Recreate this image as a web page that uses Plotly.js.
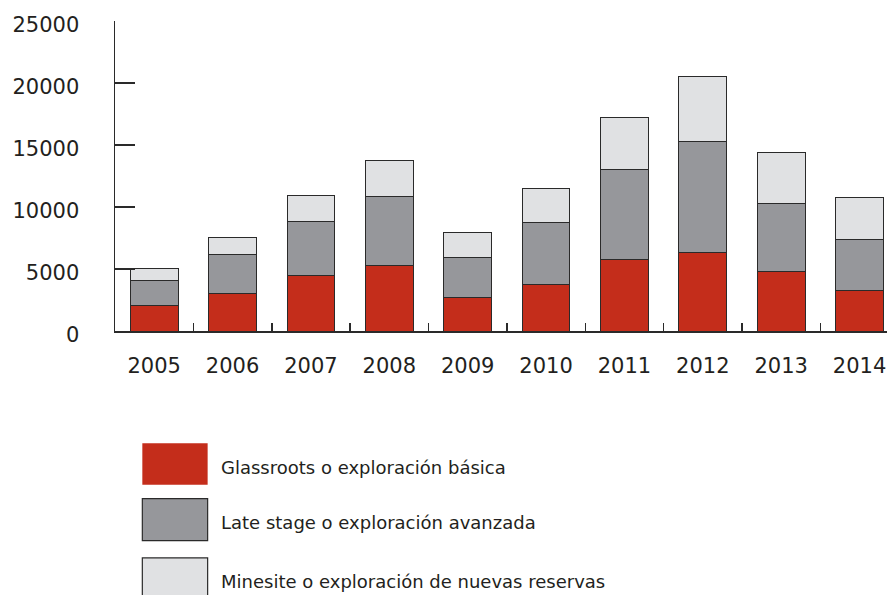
<!DOCTYPE html>
<html>
<head>
<meta charset="utf-8">
<script src="https://cdn.plot.ly/plotly-3.0.1.min.js"></script>
<style>html,body{margin:0;padding:0;background:#fff;}#chart{width:887px;height:595px;}</style>
</head>
<body>
<div id="chart"></div>
<script>
const years = ["2005","2006","2007","2008","2009","2010","2011","2012","2013","2014"];
const grassroots = [2070, 3000, 4480, 5260, 2710, 3785, 5795, 6305, 4775, 3245];
const lateStage = [1980, 3170, 4350, 5555, 3220, 4965, 7190, 8965, 5505, 4135];
const minesite = [995, 1345, 2065, 2925, 2040, 2735, 4245, 5230, 4130, 3350];
const seriesNames = ["Glassroots o exploración básica", "Late stage o exploración avanzada", "Minesite o exploración de nuevas reservas"];
const colors = ["#c42d1b", "#96979b", "#e0e1e3"];
const yTicks = [0, 5000, 10000, 15000, 20000, 25000];

const values = [grassroots, lateStage, minesite];
const traces = values.map((v, i) => ({
  type: "bar",
  x: years,
  y: v,
  name: seriesNames[i],
  marker: {color: colors[i], line: {color: "#2a2a2a", width: 1}},
  hoverinfo: "x+y+name"
}));

const fontFam = "DejaVu Sans, sans-serif";
const txt = "#231f20";

const legendRows = [[-0.362, -0.496], [-0.541, -0.676], [-0.732, -0.867]];
const shapes = legendRows.map((r, i) => ({
  type: "rect", xref: "paper", yref: "paper",
  x0: 0.0354, x1: 0.120, y0: r[1], y1: r[0],
  fillcolor: colors[i],
  line: {color: i === 0 ? colors[0] : "#2a2a2a", width: i === 0 ? 0 : 1.2}
}));
const annotations = legendRows.map((r, i) => ({
  xref: "paper", yref: "paper", x: 0.135, y: (r[0] + r[1]) / 2 - 0.01,
  xanchor: "left", yanchor: "middle", showarrow: false,
  text: seriesNames[i], font: {family: fontFam, size: 18, color: txt}
}));

const layout = {
  width: 887, height: 595,
  margin: {l: 115, r: 0, t: 21, b: 264, pad: 0},
  paper_bgcolor: "#fff", plot_bgcolor: "#fff",
  barmode: "stack",
  bargap: 0.392,
  showlegend: false,
  font: {family: fontFam, color: txt},
  xaxis: {
    type: "category",
    range: [-0.5, 9.35],
    showline: true, linecolor: "#2a2a2a", linewidth: 1.5,
    ticks: "inside", tickson: "boundaries", ticklen: 8, tickwidth: 1.5, tickcolor: "#2a2a2a",
    tickfont: {family: fontFam, size: 21, color: txt},
    ticklabelstandoff: 15,
    showgrid: false, zeroline: false, fixedrange: true
  },
  yaxis: {
    range: [0, 25000],
    tickvals: yTicks,
    ticktext: yTicks.map(String),
    showline: true, linecolor: "#2a2a2a", linewidth: 1.5,
    ticks: "inside", ticklen: 20, tickwidth: 1.5, tickcolor: "#2a2a2a",
    tickfont: {family: fontFam, size: 21, color: txt},
    ticklabelstandoff: 30,
    ticklabelshift: 4,
    showgrid: false, zeroline: false, fixedrange: true
  },
  shapes: shapes,
  annotations: annotations
};

Plotly.newPlot("chart", traces, layout, {displayModeBar: false, staticPlot: true});
</script>
</body>
</html>
